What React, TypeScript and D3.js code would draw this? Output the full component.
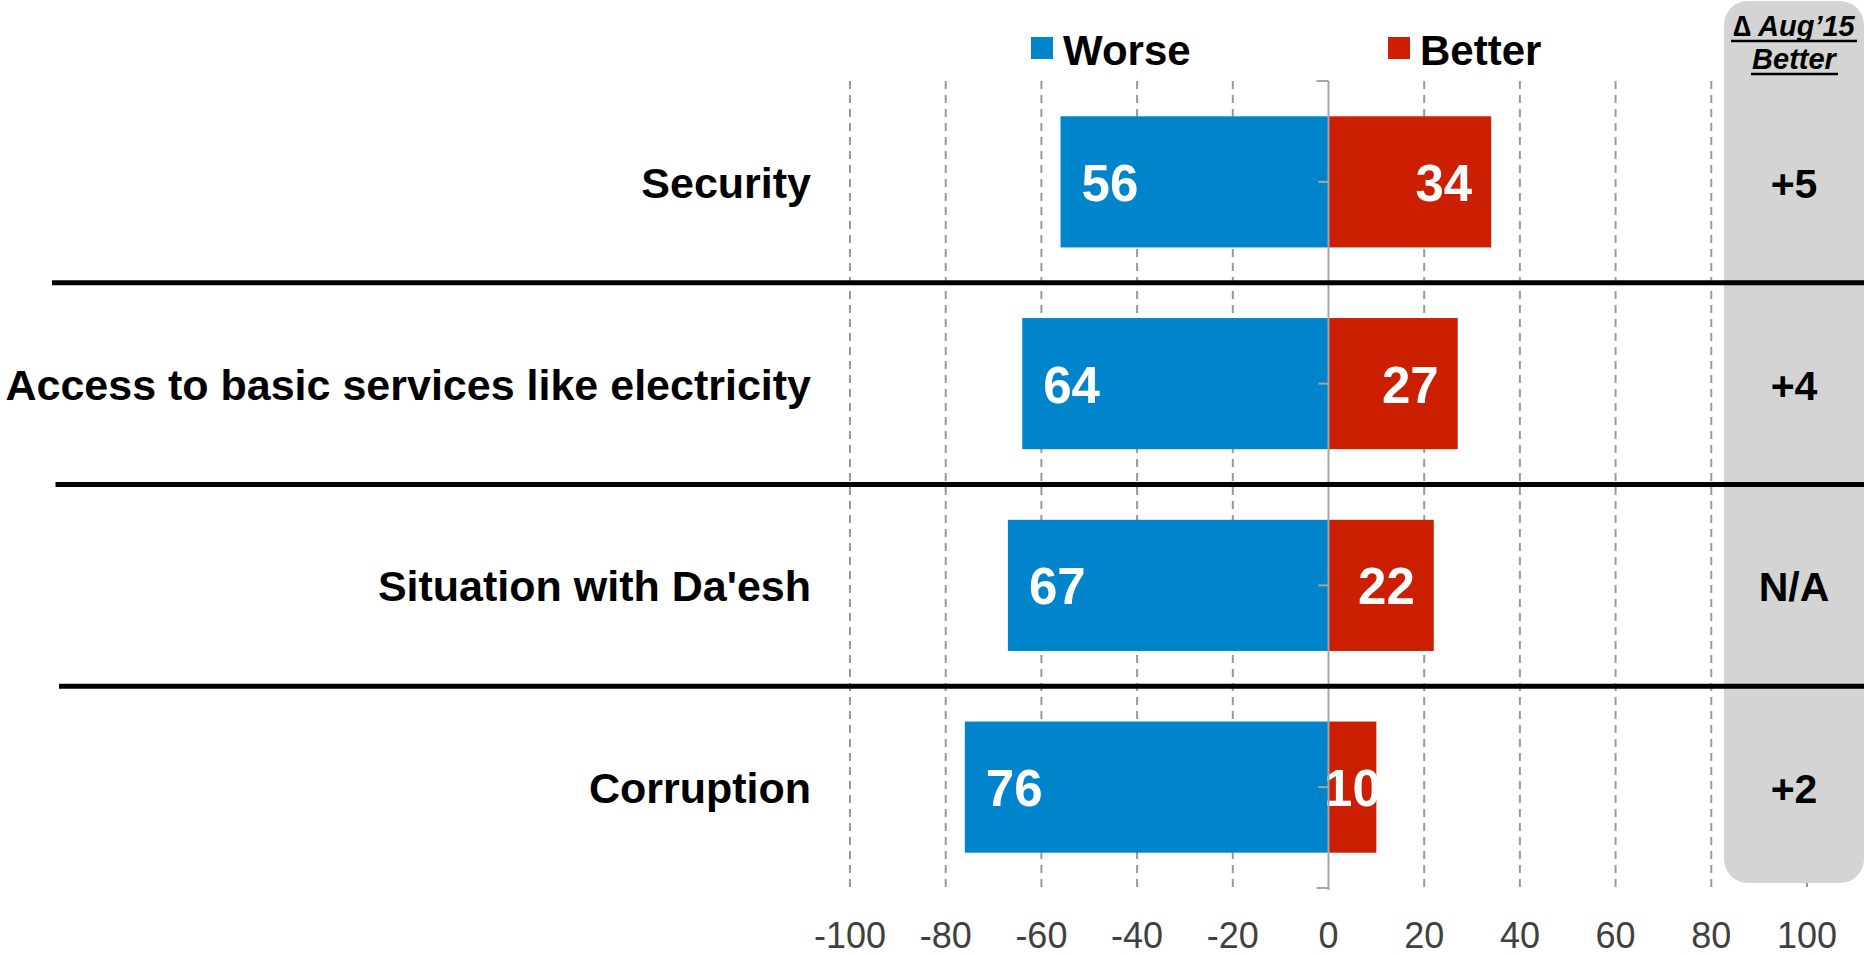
import React from "react";
import * as d3 from "d3";

const categories = [
  "Security",
  "Access to basic services like electricity",
  "Situation with Da'esh",
  "Corruption",
];
const worseValues = [56, 64, 67, 76];
const betterValues = [34, 27, 22, 10];
const changeLabels = ["+5", "+4", "N/A", "+2"];
const tickValues = [-100, -80, -60, -40, -20, 0, 20, 40, 60, 80, 100];
const seriesNames = ["Worse", "Better"];
const panelHeader = ["\u2206 Aug\u201915", "Better"];

const W = 1864;
const H = 955;
const BLUE = "#0085CC";
const RED = "#CC1E00";
const FONT = "'Liberation Sans', Arial, sans-serif";

export default function App() {
  const x = d3.scaleLinear().domain([-100, 100]).range([850, 1807]);
  const y = d3
    .scaleBand<string>()
    .domain(categories)
    .range([81, 888])
    .paddingInner(0.35)
    .paddingOuter(0.175);
  const step = y.step();
  const x0 = x(0);
  const valFont = 51;
  const digitW = 0.556 * valFont;

  const panelX = 1724;
  const panelW = 140;
  const panelCx = 1794;

  return (
    <svg
      width={W}
      height={H}
      style={{ position: "absolute", left: 0, top: 0, background: "#fff" }}
      fontFamily={FONT}
    >
      {/* gridlines */}
      {tickValues
        .filter((t) => t !== 0)
        .map((t) => (
          <line
            key={"g" + t}
            x1={x(t)}
            x2={x(t)}
            y1={81}
            y2={887}
            stroke="#999"
            strokeWidth={2}
            strokeDasharray="8,6"
          />
        ))}
      {/* panel */}
      <rect x={panelX} y={1} width={panelW} height={882} rx={24} ry={24} fill="#D4D4D4" />
      {/* header */}
      <text
        x={panelCx}
        y={36}
        textAnchor="middle"
        fontSize={29}
        fontWeight="bold"
        fontStyle="italic"
        fill="#000"
      >
        {panelHeader[0]}
      </text>
      <line x1={1731} x2={1857} y1={41} y2={41} stroke="#000" strokeWidth={2.5} />
      <text
        x={panelCx}
        y={69}
        textAnchor="middle"
        fontSize={29}
        fontWeight="bold"
        fontStyle="italic"
        fill="#000"
      >
        {panelHeader[1]}
      </text>
      <line x1={1751} x2={1838} y1={74} y2={74} stroke="#000" strokeWidth={2.5} />

      {/* legend */}
      <rect x={1031} y={37} width={22} height={22} fill={BLUE} />
      <text x={1063} y={65} fontSize={42} fontWeight="bold" fill="#000">
        {seriesNames[0]}
      </text>
      <rect x={1388} y={37} width={22} height={22} fill={RED} />
      <text x={1420} y={65} fontSize={42} fontWeight="bold" fill="#000">
        {seriesNames[1]}
      </text>

      {/* bars */}
      {categories.map((c, i) => {
        const by = y(c)!;
        const bh = y.bandwidth();
        const cy = by + bh / 2;
        const wl = x(-worseValues[i]);
        const br = x(betterValues[i]);
        const bText = String(betterValues[i]);
        const tw = bText.length * digitW;
        const fits = br - x0 > tw + 38;
        return (
          <g key={c}>
            <rect x={wl} y={by} width={x0 - wl} height={bh} fill={BLUE} />
            <rect x={x0} y={by} width={br - x0} height={bh} fill={RED} />
            <text
              x={wl + 21}
              y={cy + 19}
              fontSize={valFont}
              fontWeight="bold"
              fill="#fff"
            >
              {worseValues[i]}
            </text>
            <text
              x={fits ? br - 19 : (x0 + br) / 2}
              y={cy + 19}
              textAnchor={fits ? "end" : "middle"}
              fontSize={valFont}
              fontWeight="bold"
              fill="#fff"
            >
              {bText}
            </text>
            <text
              x={811}
              y={cy + 16}
              textAnchor="end"
              fontSize={43}
              fontWeight="bold"
              fill="#000"
            >
              {c}
            </text>
            <text
              x={panelCx}
              y={cy + 16}
              textAnchor="middle"
              fontSize={41}
              fontWeight="bold"
              fill="#000"
            >
              {changeLabels[i]}
            </text>
          </g>
        );
      })}

      {/* zero axis */}
      <line x1={x0} x2={x0} y1={81} y2={890} stroke="#A6A6A6" strokeWidth={2} />
      {categories.map((c, i) => (
        <line
          key={"ct" + i}
          x1={x0 - 10}
          x2={x0}
          y1={y(c)! + y.bandwidth() / 2}
          y2={y(c)! + y.bandwidth() / 2}
          stroke="#A6A6A6"
          strokeWidth={2}
        />
      ))}
      {d3.range(categories.length + 1).map((k) => (
        <line
          key={"bt" + k}
          x1={x0 - 12}
          x2={x0}
          y1={81 + k * step}
          y2={81 + k * step}
          stroke="#A6A6A6"
          strokeWidth={2}
        />
      ))}

      {/* separators */}
      {categories.slice(1).map((c, i) => {
        const sy = y(c)! - (step - y.bandwidth()) / 2;
        return (
          <line
            key={"s" + i}
            x1={52 + i * 3.5}
            x2={W}
            y1={sy}
            y2={sy}
            stroke="#000"
            strokeWidth={5}
          />
        );
      })}

      {/* x tick labels */}
      {tickValues.map((t) => (
        <text
          key={"t" + t}
          x={x(t)}
          y={948}
          textAnchor="middle"
          fontSize={36}
          fill="#404040"
        >
          {t}
        </text>
      ))}
    </svg>
  );
}
